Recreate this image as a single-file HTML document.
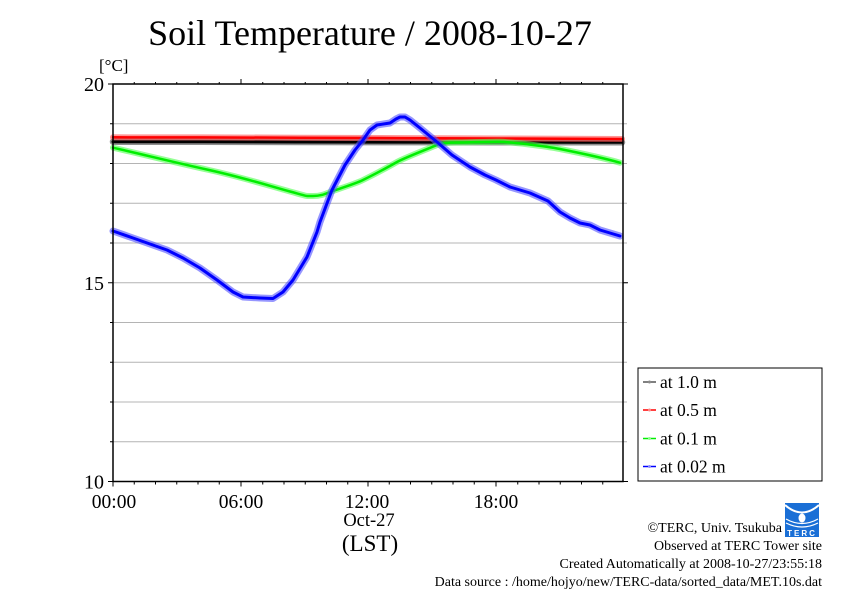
<!DOCTYPE html>
<html><head><meta charset="utf-8"><style>
html,body{margin:0;padding:0;background:#fff;}
svg{display:block;}
text{font-family:"Liberation Serif","Times New Roman",serif;fill:#000;}
</style></head><body>
<svg width="842" height="595" viewBox="0 0 842 595" xmlns="http://www.w3.org/2000/svg">
<rect width="842" height="595" fill="#fff"/>
<text x="370" y="45" font-size="36" text-anchor="middle">Soil Temperature / 2008-10-27</text>
<text x="99" y="71" font-size="17">[°C]</text>
<!-- gridlines -->
<g stroke="#b4b4b4" stroke-width="1">
<line x1="113" y1="123.75" x2="627" y2="123.75"/>
<line x1="113" y1="163.5" x2="627" y2="163.5"/>
<line x1="113" y1="203.25" x2="627" y2="203.25"/>
<line x1="113" y1="243" x2="627" y2="243"/>
<line x1="113" y1="282.75" x2="627" y2="282.75"/>
<line x1="113" y1="322.5" x2="627" y2="322.5"/>
<line x1="113" y1="362.25" x2="627" y2="362.25"/>
<line x1="113" y1="402" x2="627" y2="402"/>
<line x1="113" y1="441.75" x2="627" y2="441.75"/>
</g>
<!-- left ticks -->
<g stroke="#000" stroke-width="1">
<line x1="108" y1="84" x2="113" y2="84"/>
<line x1="108" y1="282.75" x2="113" y2="282.75"/>
<line x1="108" y1="481.5" x2="113" y2="481.5"/>
<line x1="110" y1="123.75" x2="113" y2="123.75"/>
<line x1="110" y1="163.5" x2="113" y2="163.5"/>
<line x1="110" y1="203.25" x2="113" y2="203.25"/>
<line x1="110" y1="243" x2="113" y2="243"/>
<line x1="110" y1="322.5" x2="113" y2="322.5"/>
<line x1="110" y1="362.25" x2="113" y2="362.25"/>
<line x1="110" y1="402" x2="113" y2="402"/>
<line x1="110" y1="441.75" x2="113" y2="441.75"/>
<line x1="623" y1="84" x2="628" y2="84"/>
<line x1="623" y1="481.5" x2="628" y2="481.5"/>
<line x1="623" y1="282.75" x2="628" y2="282.75"/>
</g>
<g stroke="#000" stroke-width="1">
<path d="M134.25 84v-2M155.5 84v-2M176.75 84v-2M198 84v-2M219.25 84v-2M262.75 84v-2M284 84v-2M305.25 84v-2M326.5 84v-2M347.75 84v-2M389.25 84v-2M410.5 84v-2M431.75 84v-2M453 84v-2M474.25 84v-2M517.75 84v-2M539 84v-2M560.25 84v-2M581.5 84v-2M602.75 84v-2"/>
<path d="M241 84v-5M368 84v-5M496 84v-5"/>
<path d="M134.25 481.5v3M155.5 481.5v3M176.75 481.5v3M198 481.5v3M219.25 481.5v3M262.75 481.5v3M284 481.5v3M305.25 481.5v3M326.5 481.5v3M347.75 481.5v3M389.25 481.5v3M410.5 481.5v3M431.75 481.5v3M453 481.5v3M474.25 481.5v3M517.75 481.5v3M539 481.5v3M560.25 481.5v3M581.5 481.5v3M602.75 481.5v3"/>
<path d="M113 481.5v5M241 481.5v5M368 481.5v5M496 481.5v5"/>
</g>
<!-- series -->
<g fill="none" stroke-linejoin="round" stroke-linecap="round">
<polyline stroke="#444" stroke-opacity="0.6" stroke-width="6.5" points="113,141.7 200,141.8 300,142 400,142.1 500,142.2 622,142.3"/>
<polyline stroke="#000" stroke-width="3" points="113,141.7 200,141.8 300,142 400,142.1 500,142.2 622,142.3"/>
<polyline stroke="#ff5050" stroke-opacity="0.6" stroke-width="6" points="113,137.3 200,137.4 300,137.7 400,138.1 500,138.5 622,139"/>
<polyline stroke="#ff0000" stroke-width="2.5" points="113,137.3 200,137.4 300,137.7 400,138.1 500,138.5 622,139"/>
<path stroke="#50ff50" stroke-opacity="0.6" stroke-width="6" d="M113,147.7 C145,155 177,163 209,170 S270,186 290,191.5 S305,196 313,196 S325,194 330,192 S355,184 363,180 S390,166 397,162 S430,148 437,145 S455,142.5 460,142.5 S490,141.6 500,141.8 S545,146 560,149 S600,157 620,162.7"/>
<path stroke="#00ee00" stroke-width="2.5" d="M113,147.7 C145,155 177,163 209,170 S270,186 290,191.5 S305,196 313,196 S325,194 330,192 S355,184 363,180 S390,166 397,162 S430,148 437,145 S455,142.5 460,142.5 S490,141.6 500,141.8 S545,146 560,149 S600,157 620,162.7"/>
<polyline stroke="#5050ff" stroke-opacity="0.6" stroke-width="7" points="113,231 133,238 150,244 167,250 183,258 200,268 217,280 233,292 243,297 260,298 273,298.5 283,292 293,280 307,257 317,232 320,222 332,190 345,165 355,150 363,140 370,130 377,125 390,123 396,119 400,117 405,117 410,120 420,128 437,142 452,155 470,167 485,175 496,180 510,187 530,193 548,201 560,212 570,218 580,223 590,225 600,230 610,233 620,236"/>
<polyline stroke="#0000ff" stroke-width="3" points="113,231 133,238 150,244 167,250 183,258 200,268 217,280 233,292 243,297 260,298 273,298.5 283,292 293,280 307,257 317,232 320,222 332,190 345,165 355,150 363,140 370,130 377,125 390,123 396,119 400,117 405,117 410,120 420,128 437,142 452,155 470,167 485,175 496,180 510,187 530,193 548,201 560,212 570,218 580,223 590,225 600,230 610,233 620,236"/>
</g>
<!-- frame -->
<rect x="113" y="84" width="510" height="397.5" fill="none" stroke="#000" stroke-width="1.5"/>
<!-- y labels -->
<text x="104" y="91" font-size="20" text-anchor="end">20</text>
<text x="104" y="290" font-size="20" text-anchor="end">15</text>
<text x="104" y="488.5" font-size="20" text-anchor="end">10</text>
<!-- x labels -->
<text x="114" y="508" font-size="19.5" text-anchor="middle">00:00</text>
<text x="241" y="508" font-size="19.5" text-anchor="middle">06:00</text>
<text x="367" y="508" font-size="19.5" text-anchor="middle">12:00</text>
<text x="496" y="508" font-size="19.5" text-anchor="middle">18:00</text>
<text x="369" y="526" font-size="18.5" text-anchor="middle">Oct-27</text>
<text x="370" y="551" font-size="23" text-anchor="middle">(LST)</text>
<!-- legend -->
<rect x="638" y="368" width="184" height="113" fill="#fff" stroke="#000" stroke-width="1"/>
<g stroke-width="1.5">
<line x1="643" y1="382" x2="656" y2="382" stroke="#555"/><circle cx="649.5" cy="382" r="1.5" fill="#888"/>
<line x1="643" y1="410" x2="656" y2="410" stroke="#f00"/><circle cx="649.5" cy="410" r="1.5" fill="#f88"/>
<line x1="643" y1="438.5" x2="656" y2="438.5" stroke="#0e0"/><circle cx="649.5" cy="438.5" r="1.5" fill="#8f8"/>
<line x1="643" y1="466.5" x2="656" y2="466.5" stroke="#00f"/><circle cx="649.5" cy="466.5" r="1.5" fill="#88f"/>
</g>
<text x="660" y="388" font-size="17.5">at 1.0 m</text>
<text x="660" y="416" font-size="17.5">at 0.5 m</text>
<text x="660" y="444.5" font-size="17.5">at 0.1 m</text>
<text x="660" y="472.5" font-size="17.5">at 0.02 m</text>
<!-- logo -->
<g>
<rect x="785" y="503" width="34" height="34" fill="#1a6fd6"/>
<path d="M785 505 Q802 520 819 505" fill="none" stroke="#fff" stroke-width="2"/>
<path d="M786 519 Q802 528 818 519" fill="none" stroke="#fff" stroke-width="1.2"/>
<path d="M786 523 Q802 531 818 523" fill="none" stroke="#fff" stroke-width="1.2"/>
<ellipse cx="802" cy="518" rx="3.5" ry="4.5" fill="#fff"/>
<text x="802" y="536" font-size="8" text-anchor="middle" style="fill:#fff;font-family:'Liberation Sans',sans-serif;font-weight:bold" letter-spacing="2">TERC</text>
</g>
<!-- credits -->
<text x="782" y="532" font-size="14" text-anchor="end">©TERC, Univ. Tsukuba</text>
<text x="822" y="550" font-size="14" text-anchor="end">Observed at TERC Tower site</text>
<text x="822" y="568" font-size="14" text-anchor="end">Created Automatically at 2008-10-27/23:55:18</text>
<text x="822" y="586" font-size="14" text-anchor="end">Data source : /home/hojyo/new/TERC-data/sorted_data/MET.10s.dat</text>
</svg>
</body></html>
